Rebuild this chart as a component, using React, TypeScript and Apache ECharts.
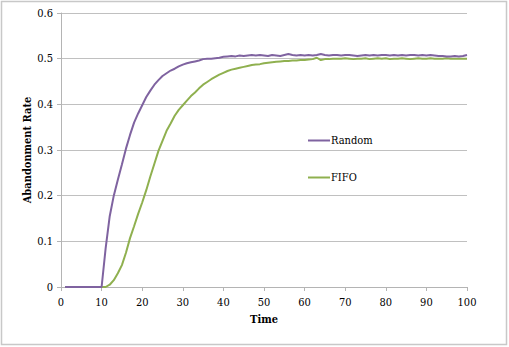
import React, { useEffect, useRef } from "react";
import * as echarts from "echarts";

const times = [
  1, 2, 3, 4, 5, 6, 7, 8, 9, 10, 11, 12, 13, 14, 15, 16, 17, 18, 19, 20,
  21, 22, 23, 24, 25, 26, 27, 28, 29, 30, 31, 32, 33, 34, 35, 36, 37, 38, 39, 40,
  41, 42, 43, 44, 45, 46, 47, 48, 49, 50, 51, 52, 53, 54, 55, 56, 57, 58, 59, 60,
  61, 62, 63, 64, 65, 66, 67, 68, 69, 70, 71, 72, 73, 74, 75, 76, 77, 78, 79, 80,
  81, 82, 83, 84, 85, 86, 87, 88, 89, 90, 91, 92, 93, 94, 95, 96, 97, 98, 99, 100,
];

const randomRate = [
  0, 0, 0, 0, 0, 0, 0, 0, 0, 0,
  0.085, 0.155, 0.2, 0.235, 0.268, 0.303, 0.333, 0.36, 0.38, 0.398,
  0.416, 0.43, 0.443, 0.453, 0.462, 0.468, 0.474, 0.478, 0.483, 0.487,
  0.49, 0.492, 0.494, 0.496, 0.499, 0.5, 0.5, 0.501, 0.502, 0.504,
  0.505, 0.506, 0.505, 0.507, 0.506, 0.507, 0.508, 0.507, 0.508, 0.507,
  0.506, 0.508, 0.507, 0.506, 0.508, 0.51, 0.508, 0.507, 0.508, 0.507,
  0.508, 0.507, 0.508, 0.51, 0.508, 0.507, 0.508, 0.508, 0.507, 0.508,
  0.508, 0.507, 0.506, 0.507, 0.508, 0.507, 0.508, 0.507, 0.508, 0.508,
  0.507, 0.508, 0.507, 0.508, 0.507, 0.508, 0.508, 0.507, 0.508, 0.507,
  0.508, 0.507, 0.506, 0.506, 0.505, 0.505, 0.506, 0.505, 0.506, 0.508,
];

const fifoRate = [
  0, 0, 0, 0, 0, 0, 0, 0, 0, 0,
  0, 0.005, 0.015, 0.03, 0.048, 0.075, 0.107, 0.133, 0.16, 0.185,
  0.212, 0.242, 0.27, 0.298, 0.32, 0.342, 0.358, 0.375, 0.388, 0.398,
  0.408, 0.418, 0.426, 0.435, 0.443, 0.449, 0.455, 0.46, 0.465, 0.469,
  0.473, 0.476, 0.478, 0.48, 0.482, 0.484, 0.486, 0.487, 0.488, 0.49,
  0.491, 0.492, 0.493, 0.494, 0.495, 0.495, 0.496, 0.496, 0.497, 0.497,
  0.498, 0.499, 0.502, 0.497, 0.499, 0.499, 0.5, 0.5, 0.5, 0.501,
  0.5, 0.499, 0.5, 0.5, 0.501, 0.499, 0.5, 0.501, 0.5, 0.501,
  0.499, 0.5, 0.5, 0.501, 0.5, 0.499, 0.5, 0.501, 0.5, 0.5,
  0.501, 0.5, 0.5, 0.5, 0.501, 0.5, 0.5, 0.5, 0.5, 0.5,
];

const seriesNames = ["Random", "FIFO"];
const xTitle = "Time";
const yTitle = "Abandonment Rate";

const FONT = "DejaVu Serif Condensed, DejaVu Serif";

export default function App() {
  const ref = useRef<HTMLDivElement>(null);

  useEffect(() => {
    document.body.style.margin = "0";
    const chart = echarts.init(ref.current!, null, { renderer: "svg" });
    const pairs = (vals: number[]) => times.map((t, i) => [t, vals[i]]);
    chart.setOption({
      animation: false,
      backgroundColor: "#ffffff",
      textStyle: { fontFamily: FONT },
      graphic: [
        {
          type: "rect",
          shape: { x: 1.5, y: 1.5, width: 505, height: 343 },
          style: { fill: "none", stroke: "#c8c8c8", lineWidth: 1.5 },
          silent: true,
        },
      ],
      grid: { left: 61, right: 42, top: 13, bottom: 60, containLabel: false },
      legend: {
        orient: "vertical",
        left: 303,
        top: 130,
        itemGap: 26,
        icon: "rect",
        itemWidth: 22,
        itemHeight: 2,
        textStyle: { fontFamily: FONT, fontSize: 11, color: "#000", padding: [0, 0, 0, -4] },
        data: seriesNames,
      },
      xAxis: {
        type: "value",
        min: 0,
        max: 100,
        interval: 10,
        name: xTitle,
        nameLocation: "middle",
        nameGap: 27,
        nameMoveOverlap: false,
        nameTextStyle: { fontFamily: FONT, fontSize: 11, fontWeight: "bold", color: "#000" },
        axisLine: { lineStyle: { color: "#b4b4b4", width: 1 } },
        axisTick: { show: true, length: 4, lineStyle: { color: "#b4b4b4" } },
        axisLabel: { fontFamily: FONT, fontSize: 11, color: "#000", margin: 10 },
        splitLine: { show: false },
      },
      yAxis: {
        type: "value",
        min: 0,
        max: 0.6,
        interval: 0.1,
        name: yTitle,
        nameLocation: "middle",
        nameRotate: 90,
        nameGap: 28,
        nameMoveOverlap: false,
        nameTextStyle: { fontFamily: FONT, fontSize: 11, fontWeight: "bold", color: "#000" },
        axisLine: { show: true, lineStyle: { color: "#b4b4b4", width: 1 } },
        axisTick: { show: true, length: 4, lineStyle: { color: "#b4b4b4" } },
        axisLabel: { fontFamily: FONT, fontSize: 11, color: "#000", margin: 8 },
        splitLine: { show: true, lineStyle: { color: "#c0c0c0", width: 1.2 } },
      },
      series: [
        {
          name: seriesNames[0],
          type: "line",
          data: pairs(randomRate),
          showSymbol: false,
          symbol: "none",
          lineStyle: { color: "#7f63a0", width: 2 },
          itemStyle: { color: "#7f63a0" },
          z: 3,
        },
        {
          name: seriesNames[1],
          type: "line",
          data: pairs(fifoRate),
          showSymbol: false,
          symbol: "none",
          lineStyle: { color: "#8fb04f", width: 2 },
          itemStyle: { color: "#8fb04f" },
          z: 2,
        },
      ],
    });
    return () => chart.dispose();
  }, []);

  return (
    <div
      ref={ref}
      style={{ position: "absolute", left: 0, top: 0, width: 509, height: 347 }}
    />
  );
}
